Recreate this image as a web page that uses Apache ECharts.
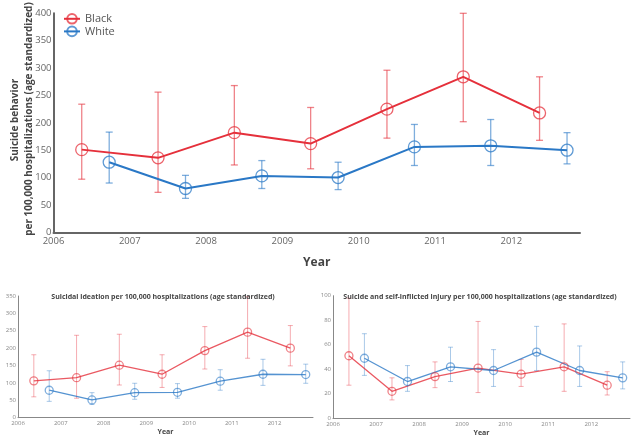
<!DOCTYPE html>
<html>
<head>
<meta charset="utf-8">
<script src="https://cdn.jsdelivr.net/npm/echarts@6/dist/echarts.min.js"></script>
<style>
  html, body { margin: 0; padding: 0; background: #fff; }
  #main { width: 637px; height: 441px; }
</style>
</head>
<body>
<div id="main"></div>
<script>
// x positions (years) of the two groups
var blackYears = [2006.37, 2007.37, 2008.37, 2009.37, 2010.37, 2011.37, 2012.37];
var whiteYears = [2006.73, 2007.73, 2008.73, 2009.73, 2010.73, 2011.73, 2012.73];

// suicide behavior (top)
var behBlack   = [151, 136, 182, 162, 225, 284, 218];
var behBlackLo = [97, 73, 123, 116, 172, 202, 168];
var behBlackHi = [234, 256, 268, 228, 296, 400, 284];
var behWhite   = [128, 80, 103, 100, 156, 158, 150];
var behWhiteLo = [90, 62, 80, 78, 122, 122, 125];
var behWhiteHi = [183, 104, 131, 128, 197, 206, 182];

// suicidal ideation (bottom left)
var ideBlack   = [106, 115, 151, 125, 193, 246, 200];
var ideBlackLo = [60, 56, 94, 87, 140, 171, 149];
var ideBlackHi = [181, 237, 240, 181, 262, 348, 265];
var ideWhite   = [79, 51, 72, 73, 105, 125, 124];
var ideWhiteLo = [47, 38, 53, 56, 79, 93, 99];
var ideWhiteHi = [135, 72, 99, 98, 138, 168, 154];

// suicide and self-inflicted injury (bottom right)
var injBlack   = [51, 22, 34, 41, 36, 42, 27];
var injBlackLo = [27, 15, 25, 21, 26, 22, 19];
var injBlackHi = [98, 33, 46, 79, 48, 77, 38];
var injWhite   = [49, 30, 42, 39, 54, 39, 33];
var injWhiteLo = [35, 22, 30, 26, 39, 26, 24];
var injWhiteHi = [69, 43, 58, 56, 75, 59, 46];

var RED = '#e5303b', BLUE = '#2a78c6';
var FONT = '"Open Sans", sans-serif';

function pts(xs, ys) {
    return xs.map(function (x, i) { return [x, ys[i]]; });
}
function bars(xs, lo, hi) {
    return xs.map(function (x, i) { return [x, lo[i], hi[i]]; });
}

function errorBars(cap, color, width) {
    return function (params, api) {
        var x = api.value(0);
        var a = api.coord([x, api.value(2)]);
        var b = api.coord([x, api.value(1)]);
        var s = { stroke: color, lineWidth: width };
        return {
            type: 'group',
            children: [
                { type: 'line', shape: { x1: a[0], y1: a[1], x2: b[0], y2: b[1] }, style: s },
                { type: 'line', shape: { x1: a[0] - cap, y1: a[1], x2: a[0] + cap, y2: a[1] }, style: s },
                { type: 'line', shape: { x1: b[0] - cap, y1: b[1], x2: b[0] + cap, y2: b[1] }, style: s }
            ]
        };
    };
}

function lineSeries(name, idx, data, color, ring, lw, size) {
    return {
        name: name, type: 'line', xAxisIndex: idx, yAxisIndex: idx,
        data: data, symbol: 'circle', symbolSize: size,
        lineStyle: { color: color, width: lw },
        itemStyle: { color: 'rgba(255,255,255,0)', borderColor: ring, borderWidth: 1.3 },
        z: 3, animation: false
    };
}
function barSeries(name, idx, data, color, cap, lw) {
    return {
        name: name, type: 'custom', xAxisIndex: idx, yAxisIndex: idx,
        data: data, encode: { x: 0, y: [1, 2] },
        renderItem: errorBars(cap, color, lw), clip: false, z: 2, animation: false
    };
}

function xAxisCfg(idx, big) {
    return {
        type: 'value', gridIndex: idx, min: 2006, max: 2012.9, interval: 1,
        name: 'Year', nameLocation: 'middle', nameGap: big ? 24 : 11, nameMoveOverlap: false,
        nameTextStyle: { fontFamily: FONT, fontWeight: 'bold', fontSize: big ? 12 : 7, color: '#444' },
        axisLine: { show: true, lineStyle: { color: big ? '#666' : '#888', width: big ? 2 : 1 } },
        axisTick: { show: false },
        splitLine: { show: false },
        axisLabel: { fontFamily: FONT, fontSize: big ? 9.5 : 6, color: big ? '#666' : '#888',
            margin: big ? 4 : 3, showMaxLabel: false,
            formatter: function (v) { return String(Math.round(v)); } }
    };
}
function yAxisCfg(idx, big, max, step) {
    return {
        type: 'value', gridIndex: idx, min: 0, max: max, interval: step,
        axisLine: { show: true, lineStyle: { color: big ? '#666' : '#888', width: big ? 2 : 1 } },
        axisTick: { show: false },
        splitLine: { show: false },
        axisLabel: { fontFamily: FONT, fontSize: big ? 9.5 : 6, color: big ? '#666' : '#888', margin: 2 }
    };
}

var chart = echarts.init(document.getElementById('main'), null, { renderer: 'canvas' });

var yTitleFont = 'bold 10px "Open Sans", sans-serif';

chart.setOption({
    backgroundColor: '#fff',
    textStyle: { fontFamily: FONT },
    title: [
        { text: 'Suicidal ideation per 100,000 hospitalizations (age standardized)',
          left: 158, top: 288, textAlign: 'center',
          textStyle: { fontFamily: FONT, fontSize: 7, fontWeight: 'bold', color: '#444' } },
        { text: 'Suicide and self-inflicted injury per 100,000 hospitalizations (age standardized)',
          left: 475, top: 288, textAlign: 'center',
          textStyle: { fontFamily: FONT, fontSize: 7, fontWeight: 'bold', color: '#444' } }
    ],
    graphic: [
        { type: 'text', x: 15, y: 120, rotation: Math.PI / 2,
          style: { text: 'Suicide behavior', align: 'center', verticalAlign: 'middle',
                   font: yTitleFont, fill: '#444' } },
        { type: 'text', x: 29.5, y: 119, rotation: Math.PI / 2,
          style: { text: 'per 100,000 hospitalizations (age standardized)', align: 'center',
                   verticalAlign: 'middle', font: yTitleFont, fill: '#444' } }
    ],
    legend: {
        data: ['Black', 'White'], orient: 'vertical', left: 58, top: 8,
        itemGap: 1, itemWidth: 16, itemHeight: 12,
        textStyle: { fontFamily: FONT, fontSize: 11, color: '#555' }
    },
    grid: [
        { left: 53.5, right: 57, top: 13.3, bottom: 208.7, outerBoundsMode: 'none', containLabel: false },
        { left: 18, right: 324, top: 296, bottom: 23.3, outerBoundsMode: 'none', containLabel: false },
        { left: 333, right: 7, top: 295.7, bottom: 22.7, outerBoundsMode: 'none', containLabel: false }
    ],
    xAxis: [xAxisCfg(0, true), xAxisCfg(1, false), xAxisCfg(2, false)],
    yAxis: [yAxisCfg(0, true, 400, 50), yAxisCfg(1, false, 350, 50), yAxisCfg(2, false, 100, 20)],
    series: [
        lineSeries('Black', 0, pts(blackYears, behBlack), RED, 'rgba(229,48,59,0.75)', 2, 12),
        lineSeries('White', 0, pts(whiteYears, behWhite), BLUE, 'rgba(42,120,198,0.75)', 2, 12),
        barSeries('Black', 0, bars(blackYears, behBlackLo, behBlackHi), 'rgba(229,48,59,0.6)', 3.5, 1.3),
        barSeries('White', 0, bars(whiteYears, behWhiteLo, behWhiteHi), 'rgba(42,120,198,0.6)', 3.5, 1.3),

        lineSeries('Black', 1, pts(blackYears, ideBlack), 'rgba(229,48,59,0.8)', 'rgba(229,48,59,0.6)', 1.3, 8),
        lineSeries('White', 1, pts(whiteYears, ideWhite), 'rgba(42,120,198,0.8)', 'rgba(42,120,198,0.6)', 1.3, 8),
        barSeries('Black', 1, bars(blackYears, ideBlackLo, ideBlackHi), 'rgba(229,48,59,0.4)', 2.5, 1),
        barSeries('White', 1, bars(whiteYears, ideWhiteLo, ideWhiteHi), 'rgba(42,120,198,0.4)', 2.5, 1),

        lineSeries('Black', 2, pts(blackYears, injBlack), 'rgba(229,48,59,0.8)', 'rgba(229,48,59,0.6)', 1.3, 8),
        lineSeries('White', 2, pts(whiteYears, injWhite), 'rgba(42,120,198,0.8)', 'rgba(42,120,198,0.6)', 1.3, 8),
        barSeries('Black', 2, bars(blackYears, injBlackLo, injBlackHi), 'rgba(229,48,59,0.4)', 2.5, 1),
        barSeries('White', 2, bars(whiteYears, injWhiteLo, injWhiteHi), 'rgba(42,120,198,0.4)', 2.5, 1)
    ]
});
</script>
</body>
</html>
